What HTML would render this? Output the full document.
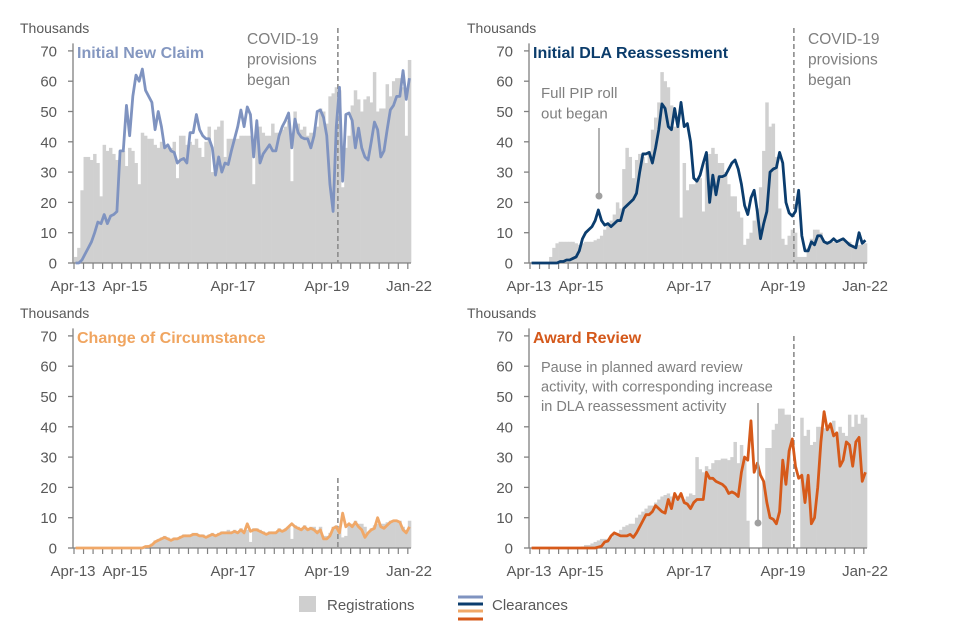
<!DOCTYPE html>
<html><head><meta charset="utf-8">
<style>
body{margin:0;background:#fff;}
svg{display:block;font-family:"Liberation Sans",Arial,sans-serif;}
</style></head>
<body>
<svg id="chart" width="960" height="640" viewBox="0 0 960 640"></svg>
<script>
// ---- data (thousands, monthly Apr-13 .. Jan-22) ----
const months = 106;
const xTickLabels = ["Apr-13","Apr-15","Apr-17","Apr-19","Jan-22"];
const yTicks = [0,10,20,30,40,50,60,70];

const newClaimReg = [2,5,24,35,35,34,36,33,22,39,37,38,36,34,37,37,32,38,37,33,26,43,42,41,41,39,38,40,39,38,38,40,28,42,42,39,40,39,41,38,35,40,45,30,44,45,47,35,41,41,41,41,42,42,42,42,26,45,45,43,42,42,46,43,43,44,45,47,27,50,46,44,45,42,43,43,45,51,50,46,55,56,58,57,25,38,42,52,57,54,50,54,55,53,63,50,51,51,59,55,60,61,61,58,42,67];
const newClaimClr = [0,0,1,3,5,7,10,13.5,13,16,13,15.5,16,17,37,37,52,42,55,62,60,64,57,55,53,44,50,45,38,39,37,36.5,33,34,34.5,33,43,43,49,44,42,41,41,38,29,35,30,33,32.5,37,41,45,50.5,45,51.5,49,35,47,33,36,37.5,39,37,37,42,45,47,49.5,38,47.5,43,41.5,41,41,38,42,50,50.5,48,42,26,17,45,58,27,49,49.5,47,38,44.5,38,35,34,40,46.5,44,35,37,44,50.5,52,55,55,63.5,54,61];

const dlaReg = [0,0,0,0,0,0,2,5,6.5,7,7,7,7,7,6.5,6,6.5,7,7,7,7.5,8,9,11,13,14,16,20,18,31,38,35,28,34,36,35,33,37,44,48,53,63,60,58,52,45,45,15,33,24,26,26,27,28,17,33,36,38,36,33,33,30,26,22,22,17,15,6,8,10,14,18,25,37,53,45,46,35,18,8,6,9,11,10,2,2,2,5,8,11,11,10,7,7,7,7,6.5,7,8,7,7,6,5.5,6,6,6.5];
const dlaClr = [0,0,0,0,0,0,0,0,0,0.5,0.5,1,1,1.5,2,4,8,10,11,12,14,17.5,14,12.5,13,12,13,14,14,18,19,20,21,23,30,36,36,36.5,33,38,44,52.5,51,45,44,51,45,53,45,46,40,28,27,29,33,36.5,20,29,22.5,28.5,28.5,29,31,33,34,31,26,19,16,21.5,24,17,8,13,17,30,31,31.5,36.5,33,20,16.5,15.5,17,24,9,4,4,7,6,9,9,7,6.5,7,8,7,7.5,8,7,6,5.5,5,10,6.5,7.5];

const cocReg = [0,0,0,0,0,0,0,0,0,0,0,0,0,0,0,0,0,0,0,0,0,0.3,0.6,1,1.5,2.5,3,3.5,4,3.5,3,3.5,3.5,4,4.5,4.5,4.5,5,5,4.5,4.5,4,4.5,5,4.5,5,5.5,5.5,6,5.5,6,5.5,6.5,5.5,6,2,6.5,6.5,6,5.5,5,5.5,5.5,5.5,6.5,6,6.5,7,3,7.5,7,6.5,7.5,6.5,7,7,6,7,4,4,5,7,7.5,6,3.5,4,8,8,9,8,8,7,5,6.5,7.5,8,8,8,8.5,9,9,9,9,7,6,9];
const cocClr = [0,0,0,0,0,0,0,0,0,0,0,0,0,0,0,0,0,0,0,0,0,0,0.5,0.5,1,2,2.5,3,3.5,3,2.5,3,3,3.5,4,4,4,4.5,4.5,4,4,3.5,4,4.5,4,4.5,5,5,5,5,5.5,5,6,5,8,5.5,6,6,5.5,5,4.5,5,5,5,6,5.5,6,7,8,7,6.5,6,7,6,6.5,6,5,6,3,3,4,6.5,7,5,11.5,7,8,7,8.5,7,6,3.5,5,6,6.5,10,7,6.5,7.5,8.5,9,9,8.5,6,5,7];

const awardReg = [0,0,0,0,0,0,0,0,0,0,0,0,0,0,0,0,0.5,1,1,1.5,2,2.5,3,3,3,3.5,4.5,5,6,7,7.5,8,8,10,11,12,13,14,14,15,16,17,17.5,18,17,17,17,17,16,17,18,17.5,30,26,25,27,26,28,29,29,29.5,29.5,29,30,35,28,34,30,9,0,0,0,0,22,33,33,39,41,46,46,44,44,0,0,0,43,37,39,34,35,40,40,39.5,39.5,40,42,38,40,38,37,44,40,44,41,44,43];
const awardClr = [0,0,0,0,0,0,0,0,0,0,0,0,0,0,0,0,0,0,0,0,0,0.3,0.6,2,2.3,4,5,4.5,4,4,4,4.5,3.5,5,7,9,11,11,12,14,13,12,11.5,16,13,18,16,18,15,14.5,13,15,16,16,16,25,23,23,22,21.5,21,20,18,18.5,18,17,25,30,29,42,25,28,24,22,15,10,9.5,8,12,29,21,32,36,27,23,24,15,24,8,10,20,35,45,39,41,37,38,27,29,35,34,27,35,36.5,22,25];

// ---- drawing ----
const NS = "http://www.w3.org/2000/svg";
const svg = document.getElementById("chart");
function mk(tag, attrs, parent){ const e=document.createElementNS(NS,tag); for(const k in attrs) e.setAttribute(k,attrs[k]); (parent||svg).appendChild(e); return e; }

const panels = [
  {key:"initial-new-claim", title:"Initial New Claim", tcolor:"#8497c0", lcolor:"#7f93c0", x0:74, x1:411, y0:263, reg:newClaimReg, clr:newClaimClr, covidFrom:28},
  {key:"initial-dla-reassessment", title:"Initial DLA Reassessment", tcolor:"#0b3c6b", lcolor:"#0b3d6e", x0:530, x1:867, y0:263, reg:dlaReg, clr:dlaClr, covidFrom:28},
  {key:"change-of-circumstance", title:"Change of Circumstance", tcolor:"#f0a560", lcolor:"#f0a868", x0:74, x1:411, y0:548, reg:cocReg, clr:cocClr, covidFrom:478},
  {key:"award-review", title:"Award Review", tcolor:"#d4581a", lcolor:"#d65a1a", x0:530, x1:867, y0:548, reg:awardReg, clr:awardClr, covidFrom:336}
];
const pxPer10 = 30.3;
const labelOffsets = [-1, 51, 159, 253, 335];

panels.forEach(p=>{
  const g = mk("g",{});
  
  
  const w = (p.x1-p.x0)/months;
  const X = i => p.x0 + (i+0.5)*w;
  const Y = v => p.y0 - v*pxPer10/10;
  const yt = mk("text",{x:20 + (p.x0>300?447:0), y:p.y0-230, "font-size":14, fill:"#595959"}, g);
  yt.textContent = "Thousands";
  
  
  p.reg.forEach((v,i)=>{
    if(v<=0) return;
    const r = mk("rect",{x:(X(i)-w/2).toFixed(2), y:Y(v).toFixed(2), width:(w+0.3).toFixed(2), height:(p.y0-Y(v)).toFixed(2), fill:"#d0d0d0"}, g);
    
    
  });
  const ya = mk("line",{x1:p.x0-1, y1:Y(72.5), x2:p.x0-1, y2:p.y0, stroke:"#808080", "stroke-width":1.3}, g);
  
  
  yTicks.forEach(t=>{
    mk("line",{x1:p.x0-6, y1:Y(t), x2:p.x0-1, y2:Y(t), stroke:"#808080", "stroke-width":1.3}, g);
    const tl = mk("text",{x:p.x0-17, y:Y(t)+5.5, "font-size":15, fill:"#595959", "text-anchor":"end"}, g);
    tl.textContent = t;
    
    
  });
  const xa = mk("line",{x1:p.x0-1, y1:p.y0, x2:p.x1, y2:p.y0, stroke:"#808080", "stroke-width":1.3}, g);
  
  
  for(let i=0;i<=months;i+=3){
    const xx = p.x0 + i*w;
    mk("line",{x1:xx, y1:p.y0, x2:xx, y2:p.y0+6, stroke:"#808080", "stroke-width":1.2}, g);
  }
  xTickLabels.forEach((l,k)=>{
    const t = mk("text",{x:p.x0+labelOffsets[k], y:p.y0+28, "font-size":15, fill:"#595959", "text-anchor":"middle"}, g);
    t.textContent = l;
    
    
  });
  const cx = p.x0 + 83*w;
  const cl = mk("line",{x1:cx, y1:p.covidFrom, x2:cx, y2:p.y0, stroke:"#8c8c8c", "stroke-width":1.6, "stroke-dasharray":"5,3"}, g);
  
  
  const d = p.clr.map((v,i)=>(i?"L":"M")+X(i).toFixed(2)+","+Y(v).toFixed(2)).join(" ");
  const pl = mk("path",{d:d, fill:"none", stroke:p.lcolor, "stroke-width":2.8, "stroke-linejoin":"round"}, g);
  
  
  const tt = mk("text",{x:p.x0+3, y:p.y0-205, "font-size":16, "font-weight":"bold", fill:p.tcolor}, g);
  tt.textContent = p.title;
  
  
});

function multiText(lines, x, y, lh, size, name){
  const t = mk("text",{x:x, y:y, "font-size":size, fill:"#7f7f7f"});
  
  
  lines.forEach((s,i)=>{ const ts=mk("tspan",{x:x, dy:i?lh:0}, t); ts.textContent=s; });
}
multiText(["COVID-19","provisions","began"], 247, 44, 20.5, 15.5, 'covid-annotation');
multiText(["COVID-19","provisions","began"], 808, 44, 20.5, 15.5, 'covid-annotation');
multiText(["Full PIP roll","out began"], 541, 98, 20.5, 15, 'pip-annotation');
mk("line",{x1:599, y1:128, x2:599, y2:196, stroke:"#a0a0a0", "stroke-width":1.6});
mk("circle",{cx:599, cy:196, r:3.5, fill:"#a0a0a0"});
multiText(["Pause in planned award review","activity, with corresponding increase","in DLA reassessment activity"], 541, 372, 19.5, 14.5, 'award-pause-annotation');
mk("line",{x1:758, y1:403, x2:758, y2:522, stroke:"#a0a0a0", "stroke-width":1.6});
mk("circle",{cx:758, cy:523, r:3.5, fill:"#a0a0a0"});

const lg = mk("g",{});


const lr = mk("rect",{x:299, y:596, width:17, height:16, fill:"#cfcfcf"}, lg);


const lt1 = mk("text",{x:327, y:610, "font-size":15, fill:"#595959"}, lg);
lt1.textContent = "Registrations";


[["#7f93c0",597],["#0b3d6e",604],["#f0a868",611],["#d65a1a",619]].forEach(c=>{
  const l = mk("line",{x1:458, y1:c[1], x2:483, y2:c[1], stroke:c[0], "stroke-width":3}, lg);
  
  
});
const lt2 = mk("text",{x:492, y:610, "font-size":15, fill:"#595959"}, lg);
lt2.textContent = "Clearances";


</script>
</body></html>
